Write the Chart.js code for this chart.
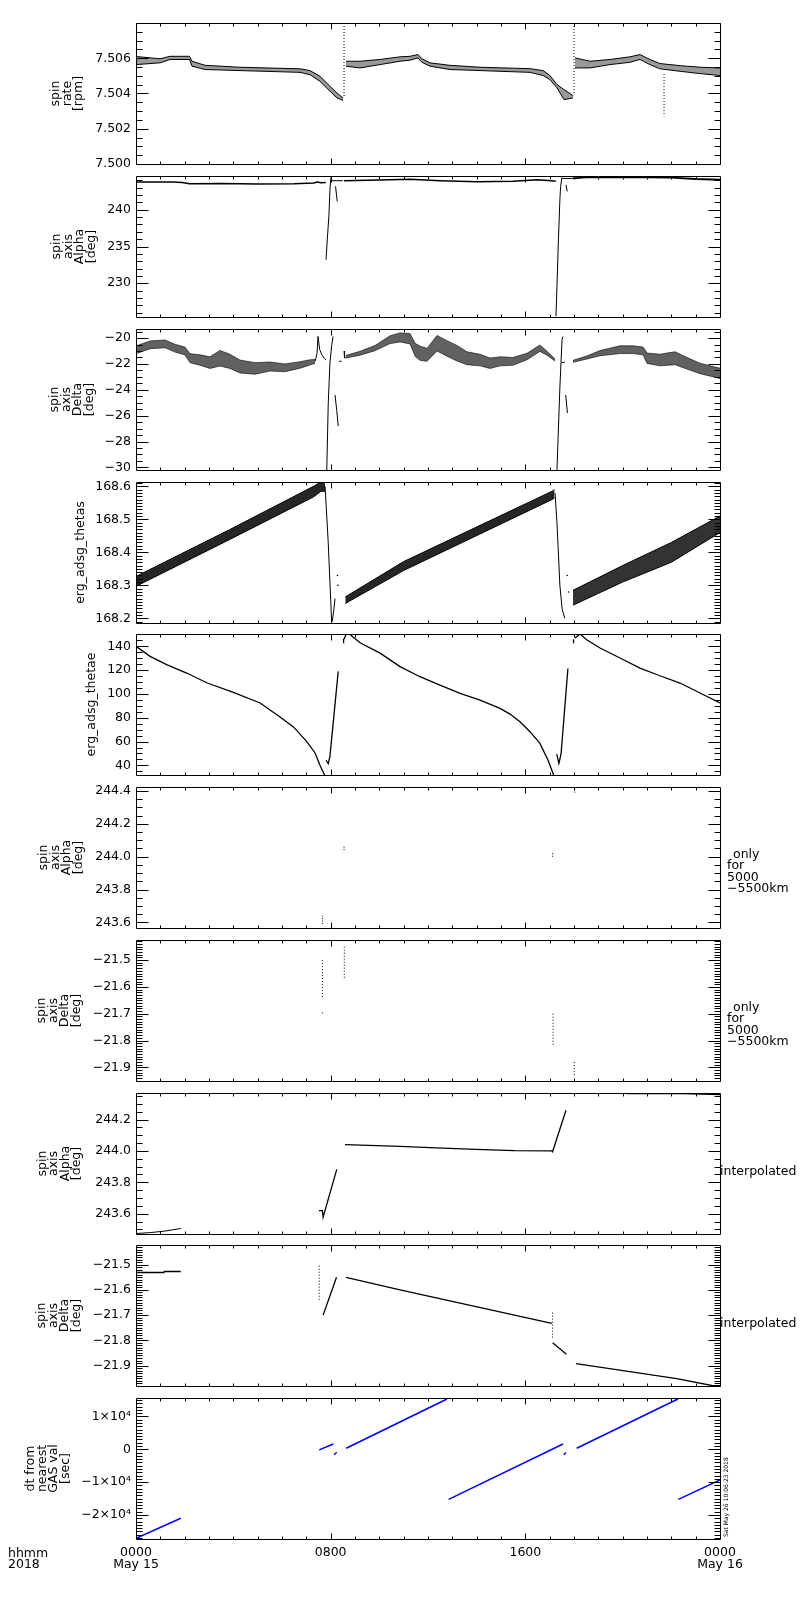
<!DOCTYPE html>
<html><head><meta charset="utf-8"><title>ERG spin axis</title>
<script src="https://cdn.jsdelivr.net/npm/chart.js@4.4.1/dist/chart.umd.min.js"></script>
<style>
html,body{margin:0;padding:0;background:#fff}
body{position:relative;width:800px;height:1600px;overflow:hidden}
</style></head><body>
<script>
// ---------------- axis categories / tick labels ----------------
const xTickValues = [0, 8, 16, 24];
const xTickLabels = [["0000", "May 15"], "0800", "1600", ["0000", "May 16"]];

// ---------------- panel 1 : spin rate [rpm] ----------------
const p1Ticks = [7.500, 7.502, 7.504, 7.506];
const p1A_t  = [0, 0.99, 1.4, 2.2, 2.3, 2.84, 4.27, 6.74, 7.15, 7.56, 7.97, 8.26, 8.51];
const p1A_hi = [7.50610, 7.50597, 7.50611, 7.50611, 7.50583, 7.50560, 7.50549, 7.50540, 7.50530, 7.50498, 7.50441, 7.50403, 7.50375];
const p1A_lo = [7.50564, 7.50574, 7.50593, 7.50593, 7.50555, 7.50536, 7.50530, 7.50520, 7.50507, 7.50469, 7.50413, 7.50375, 7.50361];
const p1B_t  = [8.63, 9.2, 10.03, 10.85, 11.26, 11.59, 11.75, 12.08, 12.9, 14.14, 16.19, 16.73, 17.01, 17.3, 17.59, 17.96];
const p1B_hi = [7.50583, 7.50583, 7.50593, 7.50608, 7.50611, 7.50621, 7.50597, 7.50574, 7.50560, 7.50549, 7.50541, 7.50530, 7.50502, 7.50451, 7.50422, 7.50388];
const p1B_lo = [7.50555, 7.50545, 7.50564, 7.50583, 7.50589, 7.50602, 7.50577, 7.50555, 7.50536, 7.50530, 7.50520, 7.50502, 7.50479, 7.50432, 7.50365, 7.50375];
const p1C_t  = [18.04, 18.66, 19.48, 20.3, 20.71, 21.12, 21.53, 22.36, 23.18, 24];
const p1C_hi = [7.50602, 7.50583, 7.50593, 7.50608, 7.50621, 7.50593, 7.50570, 7.50558, 7.50549, 7.50545];
const p1C_lo = [7.50545, 7.50545, 7.50564, 7.50577, 7.50593, 7.50564, 7.50540, 7.50526, 7.50513, 7.50502];
const p1Spk_t = [8.55, 8.55, 8.6, 18.0, 18.0, 18.05, 21.7, 21.7];
const p1Spk_v = [7.5080, 7.5038, null, 7.5080, 7.5040, null, 7.5051, 7.5027];

// ---------------- panel 2 : spin axis Alpha [deg] ----------------
const p2Ticks = [230, 235, 240];
const p2A_t = [0, 1.5, 1.9, 2.2, 3.5, 5.0, 6.5, 7.3, 7.45, 7.6, 7.8];
const p2A_v = [243.78, 243.78, 243.72, 243.55, 243.59, 243.5, 243.55, 243.64, 243.78, 243.68, 243.7];
const p2R1_t = [7.81, 7.86, 7.93, 7.97, 8.01, 8.05, 8.5];
const p2R1_v = [233.2, 235.9, 239.3, 242.7, 244.37, 243.96, 243.96];
const p2P1_t = [8.2, 8.27];
const p2P1_v = [243.18, 241.13];
const p2B_t = [8.55, 10.0, 11.26, 12.5, 14.0, 15.5, 16.5, 17.2, 17.25];
const p2B_v = [243.96, 244.05, 244.16, 243.96, 243.82, 243.89, 244.09, 243.92, 243.9];
const p2R2_t = [17.26, 17.36, 17.42, 17.45, 17.5, 17.55, 17.95];
const p2R2_v = [225.5, 235.9, 241.4, 243.14, 244.37, 244.27, 244.27];
const p2P2_t = [17.67, 17.72];
const p2P2_v = [243.4, 242.5];
const p2C_t = [17.95, 18.5, 20.0, 22.0, 23.0, 24];
const p2C_v = [244.27, 244.41, 244.46, 244.37, 244.19, 244.09];

// ---------------- panel 3 : spin axis Delta [deg] ----------------
const p3Ticks = [-30, -28, -26, -24, -22, -20];
const p3A_t  = [0, 0.58, 1.19, 1.6, 2.01, 2.22, 2.63, 3.04, 3.45, 3.86, 4.27, 4.89, 5.51, 6.12, 6.74, 7.15, 7.36];
const p3A_hi = [-20.61, -20.22, -20.15, -20.48, -20.7, -21.21, -21.3, -21.45, -20.96, -21.25, -21.7, -21.9, -21.85, -22.0, -21.83, -21.68, -21.65];
const p3A_lo = [-21.21, -20.82, -20.75, -21.08, -21.3, -21.91, -22.1, -22.35, -22.16, -22.35, -22.7, -22.8, -22.55, -22.6, -22.33, -22.08, -21.95];
const p3Pk_t = [7.36, 7.44, 7.48, 7.55, 7.64, 7.75, 7.81];
const p3Pk_v = [-21.8, -21.2, -19.88, -20.9, -21.3, -21.6, -21.7];
const p3R1_t = [7.84, 7.9, 7.97, 8.04, 8.1];
const p3R1_v = [-30.2, -25.1, -21.95, -20.6, -19.88];
const p3P1_t = [8.18, 8.25, 8.31, 8.33, 8.35, 8.45];
const p3P1_v = [-24.4, -25.6, -26.8, null, -21.8, -21.8];
const p3Hk_t = [8.55, 8.57, 8.62];
const p3Hk_v = [-21.0, -21.55, -21.45];
const p3B_t  = [8.62, 9.21, 9.82, 10.44, 10.85, 11.26, 11.47, 11.67, 11.96, 12.37, 12.78, 13.19, 13.6, 14.14, 14.55, 14.96, 15.49, 16.07, 16.6, 16.89, 17.22];
const p3B_hi = [-21.35, -21.02, -20.58, -19.83, -19.6, -19.65, -20.41, -20.62, -20.8, -19.8, -20.2, -20.57, -21.06, -21.25, -21.55, -21.45, -21.5, -21.18, -20.53, -21.02, -21.62];
const p3B_lo = [-21.55, -21.32, -20.98, -20.43, -20.3, -20.45, -21.41, -21.72, -21.8, -21.0, -21.4, -21.77, -22.06, -22.15, -22.35, -22.15, -22.1, -21.68, -21.03, -21.32, -21.78];
const p3R2_t = [17.3, 17.42, 17.51, 17.55];
const p3R2_v = [-30.2, -23.8, -20.1, -19.88];
const p3P2_t = [17.66, 17.73, 17.74, 17.5, 17.62];
const p3P2_v = [-24.4, -25.8, null, -21.9, -21.85];
const p3C_t  = [17.96, 18.53, 19.07, 19.89, 20.42, 20.84, 21.0, 21.53, 22.15, 22.64, 23.18, 24];
const p3C_hi = [-21.72, -21.38, -20.97, -20.6, -20.6, -20.7, -21.16, -21.25, -21.06, -21.5, -21.95, -22.33];
const p3C_lo = [-21.88, -21.62, -21.37, -21.2, -21.2, -21.3, -21.96, -22.15, -22.06, -22.4, -22.75, -23.13];

// ---------------- panel 4 : erg_adsg_thetas ----------------
const p4Ticks = [168.2, 168.3, 168.4, 168.5, 168.6];
const p4A_t  = [0, 3.88, 7.3, 7.6, 7.77];
const p4A_hi = [168.327, 168.470, 168.600, 168.613, 168.612];
const p4A_lo = [168.297, 168.440, 168.568, 168.585, 168.585];
const p4D1_t = [7.77, 7.9, 8.04, 8.06, 8.12, 8.18];
const p4D1_v = [168.6, 168.43, 168.19, 168.19, 168.22, 168.26];
const p4B_t  = [8.6, 11.0, 17.1, 17.2];
const p4B_hi = [168.265, 168.372, 168.585, 168.59];
const p4B_lo = [168.245, 168.345, 168.56, 168.565];
const p4D2_t = [17.22, 17.3, 17.42, 17.51, 17.62];
const p4D2_v = [168.58, 168.49, 168.3, 168.23, 168.2];
const p4Dot_t = [8.28, 8.3, 17.72, 17.78];
const p4Dot_v = [168.33, 168.3, 168.33, 168.28];
const p4C_t  = [17.96, 20.0, 22.0, 24];
const p4C_hi = [168.285, 168.36, 168.43, 168.51];
const p4C_lo = [168.24, 168.31, 168.37, 168.46];

// ---------------- panel 5 : erg_adsg_thetae ----------------
const p5Ticks = [40, 60, 80, 100, 120, 140];
const p5A_t = [0, 0.58, 1.26, 2.08, 2.93, 4.0, 5.1, 5.92, 6.47, 7.01, 7.36, 7.56, 7.77];
const p5A_v = [140, 131.6, 124.6, 117.6, 109.2, 101.3, 92.4, 80.7, 72.3, 60.2, 50.4, 40, 31];
const p5V1_t = [7.81, 7.9, 7.97, 8.31, 8.4, 8.52, 8.53];
const p5V1_v = [44.3, 41.5, 47.6, 119, null, 143, 146.5];
const p5B_t = [8.55, 8.63, 8.77, 8.97, 9.21, 10.03, 10.85, 11.67, 12.49, 13.32, 14.14, 14.96, 15.37, 15.78, 16.19, 16.6, 16.93, 17.18];
const p5B_v = [146, 150, 150.4, 147, 143, 134.3, 123, 114.5, 107.5, 100.5, 94.9, 87.9, 83.1, 76.7, 68.3, 58.5, 44.5, 31];
const p5V2_t = [17.29, 17.38, 17.47, 17.75, 17.85, 17.97, 17.98];
const p5V2_v = [49.5, 41.7, 49.9, 121.4, null, 143, 146];
const p5C_t = [18.04, 18.25, 18.52, 19.07, 19.89, 20.71, 21.53, 22.36, 23.18, 24];
const p5C_v = [147, 150.4, 145.6, 138.6, 130.2, 121.8, 115.3, 109.2, 100.8, 92.4];

// ---------------- panel 6 : spin axis Alpha (5000-5500km) ----------------
const p6Ticks = [243.6, 243.8, 244.0, 244.2, 244.4];
const p6_t = [7.66, 7.66, 7.7, 8.55, 8.55, 8.6, 17.12, 17.12, 17.2, 18.03, 18.03];
const p6_v = [243.59, 243.64, null, 244.04, 244.07, null, 244.0, 244.03, null, 244.39, 244.42];

// ---------------- panel 7 : spin axis Delta (5000-5500km) ----------------
const p7Ticks = [-21.9, -21.8, -21.7, -21.6, -21.5];
const p7_t = [7.66, 7.66, 7.7, 7.66, 7.66, 7.7, 8.56, 8.56, 8.6, 17.14, 17.14, 17.2, 18.01, 18.01];
const p7_v = [-21.50, -21.64, null, -21.695, -21.705, null, -21.45, -21.57, null, -21.70, -21.82, null, -21.88, -21.93];

// ---------------- panel 8 : spin axis Alpha interpolated ----------------
const p8Ticks = [243.6, 243.8, 244.0, 244.2];
const p8A_t = [0, 0.6, 1.2, 1.84];
const p8A_v = [243.474, 243.48, 243.49, 243.506];
const p8B_t = [7.52, 7.66, 7.69, 8.25];
const p8B_v = [243.62, 243.62, 243.578, 243.883];
const p8C_t = [8.59, 10.85, 12.33, 13.97, 15.57, 17.09, 17.12, 17.67];
const p8C_v = [244.04, 244.029, 244.02, 244.01, 244.002, 244.0, 243.995, 244.259];
const p8D_t = [20.18, 22.48, 24];
const p8D_v = [244.366, 244.366, 244.36];

// ---------------- panel 9 : spin axis Delta interpolated ----------------
const p9Ticks = [-21.9, -21.8, -21.7, -21.6, -21.5];
const p9A_t = [0, 1.15, 1.16, 1.84];
const p9A_v = [-21.531, -21.531, -21.527, -21.527];
const p9Dot_t = [7.53, 7.53, 7.6, 17.12, 17.12];
const p9Dot_v = [-21.504, -21.64, null, -21.69, -21.79];
const p9B_t = [7.69, 8.24];
const p9B_v = [-21.70, -21.55];
const p9C_t = [8.63, 10.85, 17.09];
const p9C_v = [-21.55, -21.60, -21.733];
const p9D_t = [17.12, 17.69];
const p9D_v = [-21.81, -21.855];
const p9E_t = [18.08, 22.22, 23.71, 24];
const p9E_v = [-21.892, -21.952, -21.98, -21.98];

// ---------------- panel 10 : dt from nearest GAS val [sec] ----------------
const p10Ticks = [-20000, -10000, 0, 10000];
const p10TickLabels = ["\u22122\u00d710\u2074", "\u22121\u00d710\u2074", "0", "1\u00d710\u2074"];
const p10_t = [0, 1.84, 1.9, 7.53, 8.11, 8.12, 8.14, 8.25, 8.3, 8.64, 12.78, 12.8, 12.85, 17.55, 17.56, 17.58, 17.67, 17.7, 18.11, 22.27, 22.28, 22.29, 24];
const p10_v = [-27100, -21000, null, -200, 1600, null, -1650, -900, null, 300, 15300, null, -15260, 1600, null, -1650, -1000, null, 300, 15300, null, -15260, -9360];

// ---------------- rendering ----------------
const FONT = "'DejaVu Sans', sans-serif";
Chart.defaults.font.family = FONT;
Chart.defaults.color = '#000';
const panelTop = [23, 176, 329, 482, 634, 787, 940, 1093, 1245, 1398];
const panelH = 141;

function pts(t, v) { return t.map((x, i) => ({x: x, y: v[i]})); }
function line(t, v, o) {
  return Object.assign({data: pts(t, v), borderColor: '#000', borderWidth: 1, pointRadius: 0,
    fill: false, tension: 0, spanGaps: false}, o || {});
}
function band(t, hi, lo, col, o) {
  return [line(t, hi, Object.assign({}, o)),
          line(t, lo, Object.assign({fill: '-1', backgroundColor: col}, o))];
}
function fmtNum(v, d) { return (d == null ? String(v) : v.toFixed(d)).replace('-', '\u2212'); }

const frameTicks = {
  id: 'frameTicks',
  afterDraw(chart, args, o) {
    const ctx = chart.ctx, a = chart.chartArea, xs = chart.scales.x, ys = chart.scales.y;
    const L = Math.round(a.left) + 0.5, R = Math.round(a.right) + 0.5;
    const T = Math.round(a.top) + 0.5, B = Math.round(a.bottom) + 0.5;
    ctx.save();
    ctx.strokeStyle = '#000'; ctx.lineWidth = 1;
    ctx.beginPath();
    ctx.rect(L, T, R - L, B - T);
    if (o.minor) {
      const k0 = Math.ceil(ys.min / o.minor - 1e-6), k1 = Math.floor(ys.max / o.minor + 1e-6);
      for (let k = k0; k <= k1; k++) {
        const v = k * o.minor;
        const major = o.majors.some(m => Math.abs(m - v) < o.minor * 0.01);
        const len = major ? 12 : 6;
        const y = Math.round(ys.getPixelForValue(v)) + 0.5;
        ctx.moveTo(L, y); ctx.lineTo(L + len, y);
        ctx.moveTo(R, y); ctx.lineTo(R - len, y);
      }
    }
    for (let h = 1; h < 24; h++) {
      const len = xTickValues.includes(h) ? 6 : 3;
      const x = Math.round(xs.getPixelForValue(h)) + 0.5;
      ctx.moveTo(x, B); ctx.lineTo(x, B - len);
      ctx.moveTo(x, T); ctx.lineTo(x, T + len);
    }
    ctx.stroke();
    (o.notes || []).forEach(n => {
      ctx.save();
      ctx.font = (n.size || 12.5) + 'px ' + FONT;
      ctx.fillStyle = '#000'; ctx.textAlign = n.align || 'left'; ctx.textBaseline = 'middle';
      ctx.translate(n.x, a.top + n.y);
      if (n.rot) ctx.rotate(n.rot);
      ctx.fillText(n.text, 0, 0);
      ctx.restore();
    });
    ctx.restore();
  }
};
Chart.register(frameTicks);

const onlyNote = [
  {text: 'only', x: 733, y: 67.5}, {text: 'for', x: 727, y: 79},
  {text: '5000', x: 727, y: 90.5}, {text: '\u22125500km', x: 727, y: 102}
];
const interpNote = [{text: 'interpolated', x: 720, y: 78.5}];
const bottomNote = [
  {text: 'hhmm', x: 8, y: 155.3}, {text: '2018', x: 8, y: 167},
  {text: 'Sat May 26 10:06:23 2018', x: 726, y: 139, size: 6, rot: -Math.PI / 2}
];

const dotted = {borderDash: [1, 2]};
const panels = [
  {ticks: p1Ticks, dec: 3, min: 7.5, max: 7.508, minor: 0.0005, title: ['spin', 'rate', '[rpm]'], tpad: 50.25,
   ds: [].concat(
     band(p1A_t, p1A_hi, p1A_lo, 'rgba(0,0,0,0.4)'),
     band(p1B_t, p1B_hi, p1B_lo, 'rgba(0,0,0,0.4)'),
     band(p1C_t, p1C_hi, p1C_lo, 'rgba(0,0,0,0.4)'),
     [line(p1Spk_t, p1Spk_v, dotted)])},
  {ticks: p2Ticks, dec: null, min: 225.4, max: 244.6, minor: 1, title: ['spin', 'axis', 'Alpha', '[deg]'], tpad: 51.25,
   ds: [line(p2A_t, p2A_v, {borderWidth: 1.5}), line(p2R1_t, p2R1_v), line(p2P1_t, p2P1_v),
        line(p2B_t, p2B_v, {borderWidth: 1.5}), line(p2R2_t, p2R2_v), line(p2P2_t, p2P2_v),
        line(p2C_t, p2C_v, {borderWidth: 1.8})]},
  {ticks: p3Ticks, dec: null, min: -30.2, max: -19.3, minor: 0.5, title: ['spin', 'axis', 'Delta', '[deg]'], tpad: 49.25,
   ds: [].concat(
     band(p3A_t, p3A_hi, p3A_lo, 'rgba(0,0,0,0.62)', {borderColor: 'rgba(0,0,0,0.6)'}),
     band(p3B_t, p3B_hi, p3B_lo, 'rgba(0,0,0,0.62)', {borderColor: 'rgba(0,0,0,0.6)'}),
     band(p3C_t, p3C_hi, p3C_lo, 'rgba(0,0,0,0.62)', {borderColor: 'rgba(0,0,0,0.6)'}),
     [line(p3Pk_t, p3Pk_v), line(p3R1_t, p3R1_v), line(p3P1_t, p3P1_v), line(p3Hk_t, p3Hk_v),
      line(p3R2_t, p3R2_v), line(p3P2_t, p3P2_v)])},
  {ticks: p4Ticks, dec: 1, min: 168.186, max: 168.613, minor: 0.01, title: 'erg_adsg_thetas', tpad: 74.75,
   ds: [].concat(
     band(p4A_t, p4A_hi, p4A_lo, 'rgba(0,0,0,0.85)'),
     band(p4B_t, p4B_hi, p4B_lo, 'rgba(0,0,0,0.85)'),
     band(p4C_t, p4C_hi, p4C_lo, 'rgba(0,0,0,0.8)'),
     [line(p4D1_t, p4D1_v), line(p4D2_t, p4D2_v),
      line(p4Dot_t, p4Dot_v, {showLine: false, pointRadius: 0.8, pointBackgroundColor: '#000', pointBorderWidth: 0})])},
  {ticks: p5Ticks, dec: null, min: 31.9, max: 150.4, minor: 5, title: 'erg_adsg_thetae', tpad: 86.25,
   ds: [line(p5A_t, p5A_v, {borderWidth: 1.3}), line(p5V1_t, p5V1_v, {borderWidth: 1.3}),
        line(p5B_t, p5B_v, {borderWidth: 1.3}), line(p5V2_t, p5V2_v, {borderWidth: 1.3}),
        line(p5C_t, p5C_v, {borderWidth: 1.3})]},
  {ticks: p6Ticks, dec: 1, min: 243.566, max: 244.424, minor: 0.05, title: ['spin', 'axis', 'Alpha', '[deg]'], tpad: 38.25,
   notes: onlyNote, ds: [line(p6_t, p6_v, {borderDash: [1, 1.5]})]},
  {ticks: p7Ticks, dec: 1, min: -21.951, max: -21.425, minor: 0.01, title: ['spin', 'axis', 'Delta', '[deg]'], tpad: 36,
   notes: onlyNote, ds: [line(p7_t, p7_v, {borderDash: [1, 2]})]},
  {ticks: p8Ticks, dec: 1, min: 243.471, max: 244.369, minor: 0.05, title: ['spin', 'axis', 'Alpha', '[deg]'], tpad: 36.75,
   notes: interpNote,
   ds: [line(p8A_t, p8A_v), line(p8B_t, p8B_v, {borderWidth: 1.3}), line(p8C_t, p8C_v, {borderWidth: 1.3}),
        line(p8D_t, p8D_v, {borderWidth: 1.5})]},
  {ticks: p9Ticks, dec: 1, min: -21.981, max: -21.422, minor: 0.01, title: ['spin', 'axis', 'Delta', '[deg]'], tpad: 36,
   notes: interpNote,
   ds: [line(p9A_t, p9A_v, {borderWidth: 1.3}), line(p9Dot_t, p9Dot_v, dotted), line(p9B_t, p9B_v, {borderWidth: 1.3}),
        line(p9C_t, p9C_v, {borderWidth: 1.3}), line(p9D_t, p9D_v, {borderWidth: 1.3}),
        line(p9E_t, p9E_v, {borderWidth: 1.3})]},
  {ticks: p10Ticks, labels: p10TickLabels, min: -27300, max: 15600, minor: 1000,
   title: ['dt from', 'nearest', 'GAS val', '[sec]'], tpad: 25.25, notes: bottomNote,
   ds: [line(p10_t, p10_v, {borderColor: '#0000ff', borderWidth: 1.5})]}
];

function makeChart(i, cfg) {
  const bottom = i === panels.length - 1;
  const h = 8 + panelH + (bottom ? 42 : 0) + 8;
  const cv = document.createElement('canvas');
  cv.width = 800; cv.height = h;
  cv.style.cssText = 'position:absolute;left:0;top:' + (panelTop[i] - 8) + 'px;width:800px;height:' + h + 'px';
  document.body.appendChild(cv);
  new Chart(cv, {
    type: 'line',
    data: {datasets: cfg.ds},
    options: {
      responsive: false, animation: false, events: [],
      layout: {padding: {top: 8, bottom: 8, left: 0, right: 80}, autoPadding: false},
      plugins: {legend: {display: false}, tooltip: {enabled: false},
                frameTicks: {minor: cfg.minor, majors: cfg.ticks, notes: cfg.notes || []}},
      scales: {
        x: {type: 'linear', min: 0, max: 24,
            grid: {display: false, drawTicks: false}, border: {display: false},
            ticks: {display: bottom, autoSkip: false, maxRotation: 0, minRotation: 0, padding: 8,
                    font: {family: FONT, size: 12.5, lineHeight: 0.96}, color: '#000',
                    callback: (v, k) => xTickLabels[k]},
            afterBuildTicks: s => { s.ticks = xTickValues.map(v => ({value: v})); },
            afterFit: s => { s.height = bottom ? 42 : 0; s.paddingLeft = 0; s.paddingRight = 0; }},
        y: {type: 'linear', min: cfg.min, max: cfg.max,
            grid: {display: false, drawTicks: false}, border: {display: false},
            ticks: {padding: 5, autoSkip: false, font: {family: FONT, size: 12.5}, color: '#000',
                    callback: (v, k) => cfg.labels ? cfg.labels[k] : fmtNum(v, cfg.dec)},
            afterBuildTicks: s => { s.ticks = cfg.ticks.map(v => ({value: v})); },
            title: {display: true, text: cfg.title, color: '#000',
                    font: {family: FONT, size: 12.5, lineHeight: 0.92}, padding: {top: cfg.tpad, bottom: 0}},
            afterFit: s => { s.width = 136; s.paddingTop = 0; s.paddingBottom = 0; }}
      }
    }
  });
}
panels.forEach((p, i) => makeChart(i, p));
</script>
</body></html>
